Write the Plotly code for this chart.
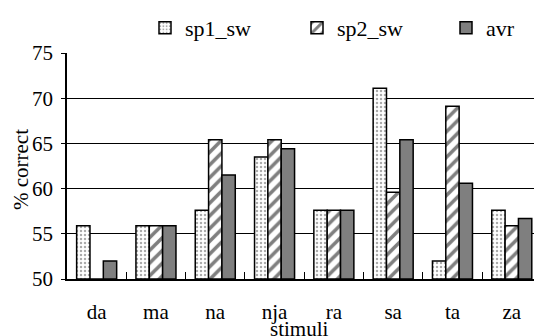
import plotly.graph_objects as go

categories = ["da", "ma", "na", "nja", "ra", "sa", "ta", "za"]
sp1_sw = [55.9, 55.9, 57.6, 63.5, 57.6, 71.1, 52.0, 57.6]
sp2_sw = [50.0, 55.9, 65.4, 65.4, 57.6, 59.6, 69.1, 55.9]
avr = [52.0, 55.9, 61.5, 64.4, 57.6, 65.4, 60.6, 56.7]
y_ticks = [50, 55, 60, 65, 70, 75]

FONT = "Liberation Serif"
line = dict(color="black", width=1.5)

W, H = 534, 336
L, T, B = 67, 53, 57
pw = W - L
ph = H - T - B


def px_x(x):
    return (x - L) / pw


def px_y(y):
    return (H - B - y) / ph


fig = go.Figure()
fig.add_trace(go.Bar(
    x=categories, y=[v - 50 for v in sp1_sw], base=50, name="sp1_sw", legend="legend",
    marker=dict(color="white", line=line,
                pattern=dict(shape=".", fgcolor="#555555", bgcolor="white", size=4, solidity=0.3)),
))
fig.add_trace(go.Bar(
    x=categories, y=[v - 50 for v in sp2_sw], base=50, name="sp2_sw", legend="legend2",
    marker=dict(color="white", line=line,
                pattern=dict(shape="/", fgcolor="black", bgcolor="white", size=9, solidity=0.4)),
))
fig.add_trace(go.Bar(
    x=categories, y=[v - 50 for v in avr], base=50, name="avr", legend="legend3",
    marker=dict(color="#7f7f7f", line=line),
))

leg_common = dict(orientation="h", xanchor="left", yanchor="middle",
                  font=dict(family=FONT, size=22), bgcolor="rgba(0,0,0,0)", borderwidth=0)

fig.update_layout(
    width=W, height=H,
    margin=dict(l=L, r=0, t=T, b=B, autoexpand=False),
    paper_bgcolor="white", plot_bgcolor="white",
    font=dict(family=FONT, size=21, color="black"),
    barmode="group", bargap=0.325, bargroupgap=0,
    showlegend=True,
    legend=dict(x=px_x(164 - 19), y=px_y(28), **leg_common),
    legend2=dict(x=px_x(316 - 19), y=px_y(28), **leg_common),
    legend3=dict(x=px_x(465 - 19), y=px_y(28), **leg_common),
    xaxis=dict(range=[-0.5, 7.375], showline=True, linecolor="black", linewidth=1.5,
               ticks="inside", tickson="boundaries", ticklen=7, tickcolor="black",
               ticklabelstandoff=13, showgrid=False, automargin=False,
               tickfont=dict(family=FONT, size=21)),
    yaxis=dict(range=[50, 75], tickvals=y_ticks, showline=True, linecolor="black", linewidth=1.5,
               ticks="outside", ticklen=4, tickcolor="black", ticklabelstandoff=4,
               showgrid=True, gridcolor="black", gridwidth=1, zeroline=False, automargin=False,
               tickfont=dict(family=FONT, size=21)),
    annotations=[
        dict(text="stimuli", xref="paper", yref="paper", x=px_x(299), y=px_y(329),
             showarrow=False, font=dict(family=FONT, size=21), xanchor="center", yanchor="middle"),
        dict(text="% correct", textangle=-90, xref="paper", yref="paper", x=px_x(21), y=px_y(170),
             showarrow=False, font=dict(family=FONT, size=21), xanchor="center", yanchor="middle"),
    ],
)

fig.write_html("out.html", config={"displayModeBar": False},
               post_script="document.body.style.margin='0';document.body.style.overflow='hidden';")
